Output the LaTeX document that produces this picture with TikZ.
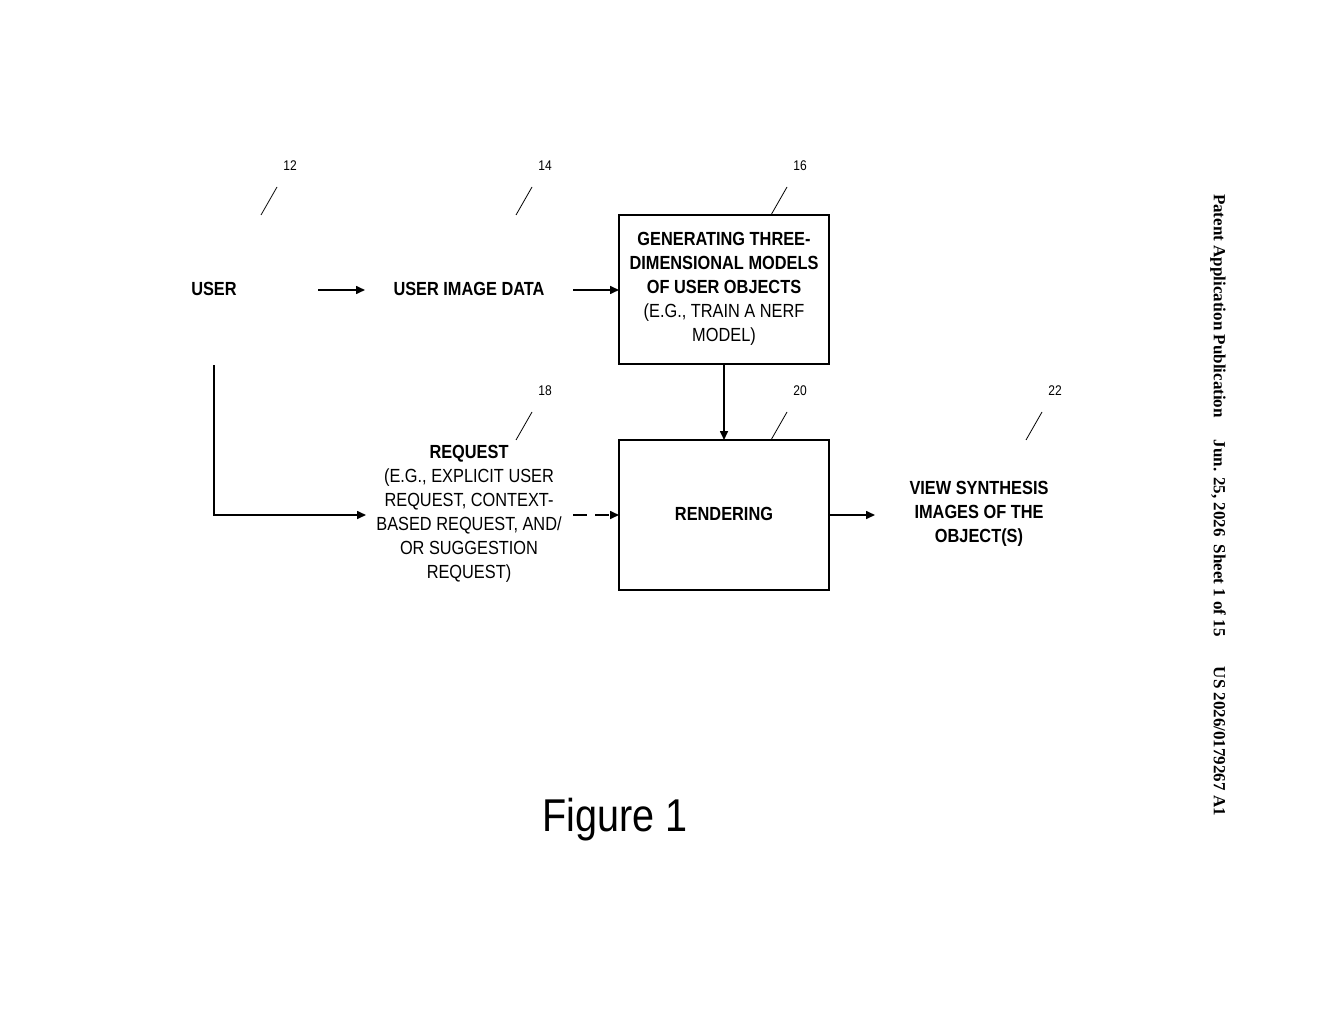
\documentclass[tikz,border=0pt]{standalone}
\usepackage{fontspec}
\setmainfont{Liberation Sans}[FakeStretch=0.86]
\newfontfamily\pserif{Liberation Serif}
\usetikzlibrary{arrows.meta}
\begin{document}
\begin{tikzpicture}[x=1pt,y=-1pt,
  lbl/.style={align=center,font=\fontsize{19}{24}\selectfont,inner sep=0pt},
  box/.style={draw,line width=1.6pt},
  arr/.style={line width=1.6pt,-{Triangle[length=9pt,width=8pt]}},
  lead/.style={line width=0.8pt},
  num/.style={font=\fontsize{14}{16}\selectfont,inner sep=0pt}]
\useasboundingbox (0,0) rectangle (1320,1024);
\node[lbl] (user) at (214,289) {\bfseries USER};
\node[lbl] (uid) at (469,289) {\bfseries USER IMAGE DATA};
\draw[box] (619,215) rectangle (829,364);
\node[lbl] (gen) at (724,289) {\bfseries GENERATING THREE-\\\bfseries DIMENSIONAL MODELS\\\bfseries OF USER OBJECTS\\(E.G., TRAIN A NERF\\MODEL)};
\draw[box] (619,440) rectangle (829,590);
\node[lbl] (ren) at (724,514) {\bfseries RENDERING};
\node[lbl] (req) at (469,514) {\bfseries REQUEST\\(E.G., EXPLICIT USER\\REQUEST, CONTEXT-\\BASED REQUEST, AND/\\OR SUGGESTION\\REQUEST)};
\node[lbl] (vs) at (979,514) {\bfseries VIEW SYNTHESIS\\\bfseries IMAGES OF THE\\\bfseries OBJECT(S)};
\coordinate (a1) at (318,290); \coordinate (a1e) at (365,290);
\coordinate (a2) at (573,290); \coordinate (a2e) at (619,290);
\coordinate (a3) at (724,364); \coordinate (a3e) at (724,440);
\coordinate (a4) at (829,515); \coordinate (a4e) at (875,515);
\coordinate (a5) at (573,515); \coordinate (a5e) at (619,515);
\coordinate (u1) at (214,365); \coordinate (u2) at (214,515); \coordinate (u3) at (366,515);
\draw[arr] (a1) -- (a1e);
\draw[arr] (a2) -- (a2e);
\draw[arr] (a3) -- (a3e);
\draw[arr] (a4) -- (a4e);
\draw[arr,dash pattern=on 14pt off 8pt] (a5) -- (a5e);
\draw[arr] (u1) -- (u2) -- (u3);
\foreach \x/\y/\n in {290/166/12,545/166/14,800/166/16,545/391/18,800/391/20,1055/391/22}{
  \node[num] at (\x,\y) {\n};
  \draw[lead] (\x-13,\y+21) -- (\x-29,\y+49);
}
\node[inner sep=0pt,font=\fontsize{46}{50}\selectfont] (fig) at (615,820) {Figure 1};
\node[rotate=-90,inner sep=0pt,font=\pserif\bfseries\fontsize{17}{20}\selectfont] (side) at (1218,505)
 {Patent Application Publication\hspace{22pt}Jun. 25, 2026\hspace{8pt}Sheet 1 of 15\hspace{30pt}US 2026/0179267 A1};
\end{tikzpicture}
\end{document}
